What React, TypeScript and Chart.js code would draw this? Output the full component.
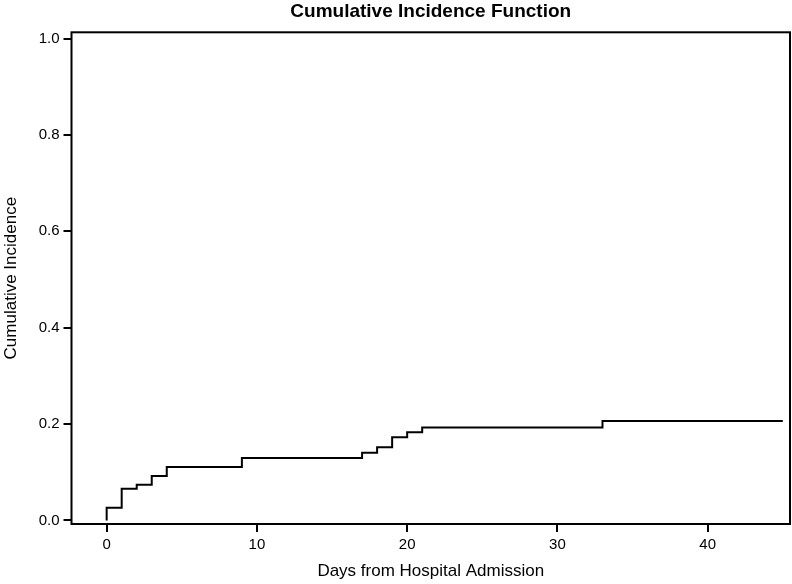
import React, { useEffect, useRef } from "react";
import { Chart, registerables } from "chart.js";

Chart.register(...registerables);

// Event times (days) and cumulative incidence after each event
const days = [0, 0, 1, 2, 3, 4, 9, 17, 18, 19, 20, 21, 33, 45];
const incidence = [0, 0.0266, 0.066, 0.0743, 0.0923, 0.111, 0.1297, 0.1407, 0.152, 0.1726, 0.183, 0.193, 0.2064, 0.2064];

const xTicks = [0, 10, 20, 30, 40];
const yTicks = [0, 0.2, 0.4, 0.6, 0.8, 1.0];

const titleText = "Cumulative Incidence Function";
const xLabel = "Days from Hospital Admission";
const yLabel = "Cumulative Incidence";

const FONT = "'Liberation Sans', Arial, Helvetica, sans-serif";

const boxPlugin = {
  id: "boxPlugin",
  afterDraw(chart: any) {
    const { ctx, chartArea } = chart;
    ctx.save();
    ctx.strokeStyle = "#000";
    ctx.lineWidth = 2;
    ctx.strokeRect(chartArea.left, chartArea.top, chartArea.right - chartArea.left, chartArea.bottom - chartArea.top);
    ctx.restore();
  },
};

export default function App() {
  const ref = useRef<HTMLCanvasElement | null>(null);

  useEffect(() => {
    if (!ref.current) return;
    const data = days.map((d, i) => ({ x: d, y: incidence[i] }));
    const chart = new Chart(ref.current, {
      type: "line",
      data: {
        datasets: [
          {
            data,
            borderColor: "#000",
            borderWidth: 2,
            pointRadius: 0,
            stepped: "before",
            fill: false,
          },
        ],
      },
      plugins: [boxPlugin],
      options: {
        animation: false,
        responsive: false,
        events: [],
        layout: { padding: { left: 0, right: 2, top: 0, bottom: 0 } },
        plugins: {
          legend: { display: false },
          tooltip: { enabled: false },
          title: {
            display: true,
            text: titleText,
            fullSize: false,
            color: "#000",
            font: { family: FONT, size: 19, weight: "bold" },
            padding: { top: 0, bottom: 9.5 },
          },
        },
        scales: {
          x: {
            type: "linear",
            min: -2.34,
            max: 45.48,
            afterFit(scale: any) {
              scale.height = 60;
            },
            afterBuildTicks(scale: any) {
              scale.ticks = xTicks.map((v) => ({ value: v }));
            },
            ticks: {
              color: "#000",
              font: { family: FONT, size: 15 },
              padding: 4,
              maxRotation: 0,
              callback: (v: any) => String(v),
            },
            grid: {
              display: true,
              drawOnChartArea: false,
              drawTicks: true,
              tickLength: 8,
              lineWidth: 2,
              color: "#000",
            },
            border: { display: false },
            title: {
              display: true,
              text: xLabel,
              color: "#000",
              font: { family: FONT, size: 17 },
              padding: { top: 0, bottom: 2 },
            },
          },
          y: {
            type: "linear",
            min: -0.0073,
            max: 1.013,
            afterFit(scale: any) {
              scale.width = 71.5;
            },
            afterBuildTicks(scale: any) {
              scale.ticks = yTicks.map((v) => ({ value: v }));
            },
            ticks: {
              color: "#000",
              font: { family: FONT, size: 15 },
              padding: 4,
              callback: (v: any) => Number(v).toFixed(1),
            },
            grid: {
              display: true,
              drawOnChartArea: false,
              drawTicks: true,
              tickLength: 8,
              lineWidth: 2,
              color: "#000",
            },
            border: { display: false },
            title: {
              display: true,
              text: yLabel,
              color: "#000",
              font: { family: FONT, size: 17 },
              padding: { top: 1, bottom: 0 },
            },
          },
        },
      },
    });
    return () => chart.destroy();
  }, []);

  return (
    <div style={{ position: "absolute", left: 0, top: 0, width: 792, height: 584, background: "#fff" }}>
      <canvas ref={ref} width={792} height={584} />
    </div>
  );
}
